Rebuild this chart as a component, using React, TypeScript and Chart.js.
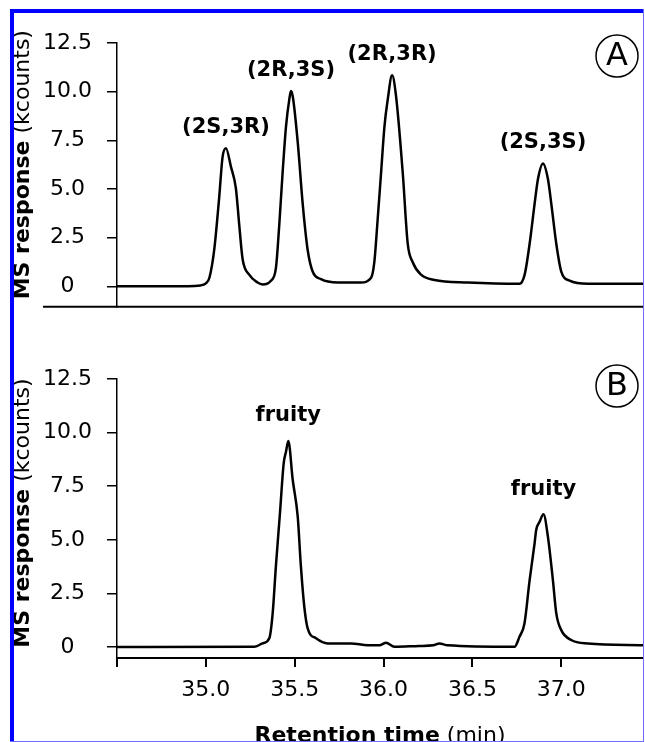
import React, { useEffect, useRef } from "react";
import { Chart, registerables } from "chart.js";

Chart.register(...registerables);

// ---- data ----
const timesA = [
  34.5, 34.8, 34.97, 35.0, 35.02, 35.047, 35.075, 35.094, 35.113, 35.141, 35.169, 35.188, 35.207,
  35.244, 35.291, 35.32, 35.366, 35.394, 35.413, 35.432, 35.451, 35.47, 35.479, 35.49, 35.517,
  35.545, 35.573, 35.601, 35.648, 35.742, 35.873, 35.93, 35.948, 35.967, 35.986, 36.005, 36.024,
  36.048, 36.07, 36.108, 36.136, 36.164, 36.211, 36.286, 36.474, 36.765, 36.794, 36.822, 36.85,
  36.869, 36.897, 36.925, 36.944, 36.972, 37.0, 37.047, 37.15, 37.46,
];
const responseA = [
  0.0, 0.0, 0.05, 0.15, 0.44, 1.87, 4.56, 6.64, 7.1, 6.15, 5.04, 3.14, 1.39,
  0.6, 0.2, 0.1, 0.29, 0.92, 3.14, 5.85, 8.21, 9.63, 10.03, 9.7, 7.41,
  4.24, 1.87, 0.76, 0.37, 0.2, 0.2, 0.44, 1.24, 3.46, 5.83, 8.21, 9.63,
  10.84, 9.79, 5.83, 2.19, 1.24, 0.6, 0.33, 0.2, 0.13, 0.6, 2.19, 4.24,
  5.51, 6.31, 5.51, 4.24, 2.19, 0.76, 0.29, 0.13, 0.13,
];
const timesB = [
  34.5, 35.272, 35.319, 35.357, 35.376, 35.394, 35.417, 35.438, 35.451, 35.464, 35.489, 35.517,
  35.535, 35.554, 35.573, 35.62, 35.686, 35.817, 35.911, 35.98, 36.014, 36.061, 36.2, 36.28,
  36.314, 36.36, 36.737, 36.765, 36.793, 36.822, 36.85, 36.859, 36.878, 36.9, 36.925, 36.953,
  36.972, 37.0, 37.056, 37.15, 37.46,
];
const responseB = [
  0.0, 0.01, 0.17, 0.41, 1.57, 3.75, 6.24, 8.57, 9.11, 9.61, 7.79, 6.08,
  3.75, 1.88, 0.87, 0.41, 0.17, 0.17, 0.09, 0.09, 0.2, 0.01, 0.05, 0.08,
  0.17, 0.08, 0.01, 0.48, 1.1, 3.12, 4.84, 5.46, 5.84, 6.19, 5.14, 3.12,
  1.57, 0.79, 0.33, 0.17, 0.09,
];

const xTickValues = [34.5, 35.0, 35.5, 36.0, 36.5, 37.0];
const xTickLabels = ["", "35.0", "35.5", "36.0", "36.5", "37.0"];
const yTickValues = [0, 2.5, 5, 7.5, 10, 12.5];
const yTickLabels = ["0", "2.5", "5.0", "7.5", "10.0", "12.5"];

const peakLabelsA = ["(2S,3R)", "(2R,3S)", "(2R,3R)", "(2S,3S)"];
const peakTimesA = [35.113, 35.479, 36.048, 36.897];
const peakHeightsA = [7.1, 10.03, 10.84, 6.31];
const peakLabelsB = ["fruity", "fruity"];
const peakTimesB = [35.464, 36.9];
const peakHeightsB = [9.61, 6.19];

const X_MIN = 34.5;
const X_MAX = 37.46;
const Y_MAX = 12.5;
const Y_MIN_A = -1.05;
const Y_MIN_B = -0.51;

const FONT = "'DejaVu Sans', sans-serif";

function drawMixed(
  ctx: CanvasRenderingContext2D,
  boldText: string,
  normalText: string,
  cx: number,
  baseline: number,
  size: number
) {
  ctx.font = `bold ${size}px ${FONT}`;
  const w1 = ctx.measureText(boldText).width;
  ctx.font = `${size}px ${FONT}`;
  const w2 = ctx.measureText(normalText).width;
  const start = cx - (w1 + w2) / 2;
  ctx.textAlign = "left";
  ctx.textBaseline = "alphabetic";
  ctx.font = `bold ${size}px ${FONT}`;
  ctx.fillText(boldText, start, baseline);
  ctx.font = `${size}px ${FONT}`;
  ctx.fillText(normalText, start + w1, baseline);
}

type PanelOpts = {
  times: number[];
  values: number[];
  yMin: number;
  showX: boolean;
  labels: string[];
  labelTimes: number[];
  labelHeights: number[];
  labelGap: number;
  letter: string;
  letterDy: number;
  padding: { left: number; top: number; right: number; bottom: number };
  xAxisHeight: number;
};

function makeConfig(o: PanelOpts): any {
  const decor = {
    id: "decor",
    afterDraw(chart: any) {
      const ctx: CanvasRenderingContext2D = chart.ctx;
      const area = chart.chartArea;
      const xs = chart.scales.x;
      const ys = chart.scales.y;
      ctx.save();
      ctx.fillStyle = "#000";
      ctx.strokeStyle = "#000";

      // separator / bottom frame line of the upper panel
      if (!o.showX) {
        ctx.lineWidth = 2;
        ctx.beginPath();
        ctx.moveTo(43, area.bottom);
        ctx.lineTo(area.right, area.bottom);
        ctx.stroke();
      }

      // peak labels
      ctx.font = `bold 21px ${FONT}`;
      ctx.textAlign = "center";
      ctx.textBaseline = "middle";
      o.labels.forEach((t, i) => {
        ctx.fillText(
          t,
          xs.getPixelForValue(o.labelTimes[i]),
          ys.getPixelForValue(o.labelHeights[i]) - o.labelGap
        );
      });

      // panel letter in a circle
      const cx = area.right - 26;
      const cy = area.top + o.letterDy;
      ctx.lineWidth = 1.5;
      ctx.beginPath();
      ctx.arc(cx, cy, 21, 0, Math.PI * 2);
      ctx.stroke();
      ctx.font = `32px ${FONT}`;
      ctx.textAlign = "center";
      ctx.textBaseline = "middle";
      ctx.fillText(o.letter, cx, cy + 1);

      // x title
      if (o.showX) {
        drawMixed(ctx, "Retention time", " (min)", (area.left + area.right) / 2, chart.height, 22);
      }

      // y title (rotated)
      const yc = (ys.getPixelForValue(Y_MAX) + ys.getPixelForValue(0)) / 2;
      ctx.translate(28.5, yc);
      ctx.rotate(-Math.PI / 2);
      drawMixed(ctx, "MS response", " (kcounts)", 0, 0, 22);
      ctx.restore();
    },
  };

  return {
    type: "line",
    data: {
      datasets: [
        {
          data: o.times.map((t, i) => ({ x: t, y: o.values[i] })),
          borderColor: "#000",
          borderWidth: 2.5,
          pointRadius: 0,
          fill: false,
          cubicInterpolationMode: "monotone",
        },
      ],
    },
    options: {
      responsive: false,
      devicePixelRatio: 1,
      animation: false,
      events: [],
      layout: { padding: o.padding },
      plugins: { legend: { display: false }, tooltip: { enabled: false } },
      scales: {
        x: {
          type: "linear",
          min: X_MIN,
          max: X_MAX,
          display: o.showX,
          afterBuildTicks: (s: any) => {
            s.ticks = xTickValues.map((v) => ({ value: v }));
          },
          afterFit: (s: any) => {
            s.height = o.xAxisHeight;
          },
          ticks: {
            callback: (_v: any, i: number) => xTickLabels[i],
            font: { family: FONT, size: 22 },
            color: "#000",
            padding: 10,
            maxRotation: 0,
            autoSkip: false,
          },
          grid: {
            drawOnChartArea: false,
            drawTicks: true,
            tickLength: 9,
            color: "#000",
            lineWidth: 2,
          },
          border: { display: true, color: "#000", width: 2 },
        },
        y: {
          type: "linear",
          min: o.yMin,
          max: Y_MAX,
          afterBuildTicks: (s: any) => {
            s.ticks = yTickValues.map((v) => ({ value: v }));
          },
          afterFit: (s: any) => {
            s.width = 117;
          },
          ticks: {
            callback: (_v: any, i: number) => yTickLabels[i],
            font: { family: FONT, size: 22 },
            color: "#000",
            padding: 15,
            crossAlign: "center",
          },
          grid: {
            drawOnChartArea: false,
            drawTicks: true,
            tickLength: 10,
            color: "#000",
            lineWidth: 1.5,
          },
          border: { display: true, color: "#000", width: 1.5 },
        },
      },
    },
    plugins: [decor],
  };
}

export default function App() {
  const refA = useRef<HTMLCanvasElement>(null);
  const refB = useRef<HTMLCanvasElement>(null);

  useEffect(() => {
    const a = new Chart(
      refA.current as HTMLCanvasElement,
      makeConfig({
        times: timesA,
        values: responseA,
        yMin: Y_MIN_A,
        showX: false,
        labels: peakLabelsA,
        labelTimes: peakTimesA,
        labelHeights: peakHeightsA,
        labelGap: 21,
        letter: "A",
        letterDy: 13,
        padding: { left: 0, top: 43, right: 2, bottom: 7 },
        xAxisHeight: 0,
      })
    );
    const b = new Chart(
      refB.current as HTMLCanvasElement,
      makeConfig({
        times: timesB,
        values: responseB,
        yMin: Y_MIN_B,
        showX: true,
        labels: peakLabelsB,
        labelTimes: peakTimesB,
        labelHeights: peakHeightsB,
        labelGap: 25,
        letter: "B",
        letterDy: 7,
        padding: { left: 0, top: 44, right: 2, bottom: 0 },
        xAxisHeight: 84,
      })
    );
    return () => {
      a.destroy();
      b.destroy();
    };
  }, []);

  const blue = "#0000ff";
  const lightBlue = "#6f6fff";
  return (
    <div
      style={{
        position: "fixed",
        left: 0,
        top: 0,
        width: 645,
        height: 742,
        background: "#fff",
        overflow: "hidden",
      }}
    >
      <canvas
        ref={refA}
        width={645}
        height={335}
        style={{ position: "absolute", left: 0, top: 0, width: 645, height: 335 }}
      />
      <canvas
        ref={refB}
        width={645}
        height={407}
        style={{ position: "absolute", left: 0, top: 335, width: 645, height: 407 }}
      />
      <div style={{ position: "absolute", left: 10, top: 9, width: 4, height: 733, background: blue }} />
      <div style={{ position: "absolute", left: 10, top: 9, width: 634, height: 4, background: blue }} />
      <div style={{ position: "absolute", left: 643, top: 9, width: 1, height: 733, background: lightBlue }} />
      <div style={{ position: "absolute", left: 10, top: 741, width: 634, height: 1, background: lightBlue }} />
    </div>
  );
}
